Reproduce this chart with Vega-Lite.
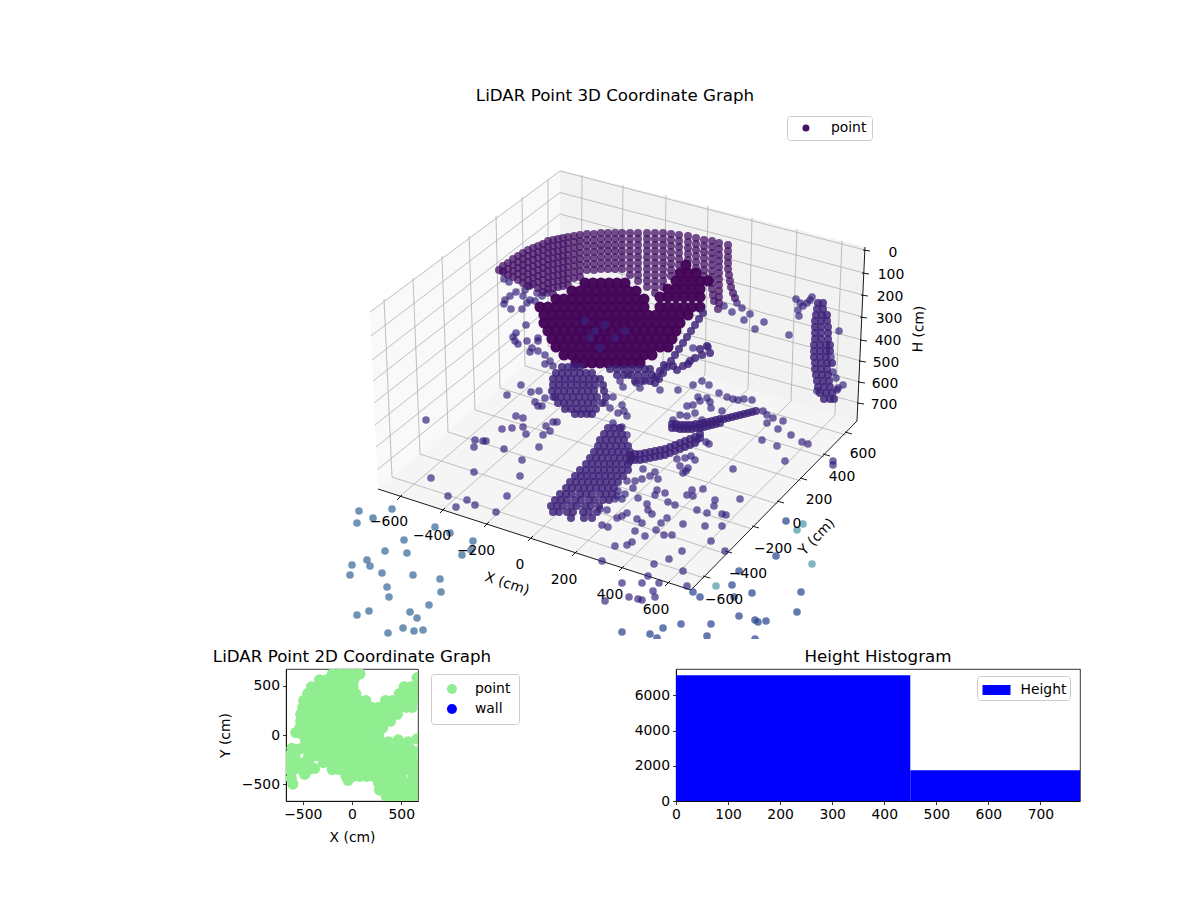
{
"$schema":"https://vega.github.io/schema/vega-lite/v6.json",
"padding":{"left":212,"top":88,"right":0,"bottom":0},
"background":"white",
"config":{"font":"DejaVu Sans","view":{"stroke":"#000000","strokeWidth":0.8},
 "axis":{"grid":false,"labelFontSize":13.9,"titleFontSize":13.9,"titleFontWeight":"normal","labelColor":"#000","titleColor":"#000","domainColor":"#000","tickColor":"#000","tickSize":3.5,"tickWidth":0.8,"domainWidth":0.8,"labelPadding":3,"labelFlush":false,"titlePadding":9},
 "title":{"fontSize":16.7,"fontWeight":"normal","offset":3,"color":"#000"},
 "legend":{"labelFontSize":13.9,"labelColor":"#000","fillColor":"white","strokeColor":"#cccccc","cornerRadius":3,"orient":"none","title":null}},
"spacing":9,
"resolve":{"scale":{"color":"independent"},"legend":{"color":"independent"}},
"datasets":{
"far":[{"x":359,"y":508},{"x":392,"y":506},{"x":373,"y":515},{"x":357,"y":520},{"x":435,"y":524},{"x":450,"y":530},{"x":404,"y":537},{"x":473,"y":538},{"x":385,"y":548},{"x":407,"y":550},{"x":471,"y":547},{"x":462,"y":552},{"x":367,"y":557},{"x":352,"y":562},{"x":370,"y":563},{"x":350,"y":572},{"x":382,"y":570},{"x":413,"y":572},{"x":440,"y":576},{"x":387,"y":584},{"x":441,"y":589},{"x":389,"y":594},{"x":429,"y":602},{"x":369,"y":608},{"x":357,"y":612},{"x":410,"y":609},{"x":417,"y":615},{"x":403,"y":625},{"x":414,"y":628},{"x":423,"y":627},{"x":388,"y":630}],
"midfar":[{"x":693,"y":589},{"x":700,"y":594},{"x":732,"y":582},{"x":739,"y":568},{"x":734,"y":594},{"x":752,"y":590},{"x":801,"y":589},{"x":797,"y":609},{"x":739,"y":613},{"x":755,"y":617},{"x":758,"y":619},{"x":766,"y":618},{"x":711,"y":621},{"x":681,"y":621},{"x":707,"y":633},{"x":663,"y":625},{"x":650,"y":631},{"x":657,"y":635},{"x":622,"y":629},{"x":776,"y":553},{"x":786,"y":518},{"x":755,"y":636}],
"teal":[{"x":797,"y":527},{"x":803,"y":521},{"x":812,"y":561},{"x":716,"y":583}],
"floor":[{"x":426,"y":417},{"x":431,"y":475},{"x":448,"y":493},{"x":456,"y":504},{"x":467,"y":497},{"x":475,"y":502},{"x":496,"y":509},{"x":507,"y":493},{"x":474,"y":469},{"x":520,"y":473},{"x":522,"y":457},{"x":504,"y":446},{"x":474,"y":444},{"x":475,"y":437},{"x":483,"y":438},{"x":486,"y":438},{"x":502,"y":426},{"x":512,"y":425},{"x":523,"y":424},{"x":526,"y":431},{"x":516,"y":413},{"x":523,"y":415},{"x":539,"y":444},{"x":543,"y":432},{"x":550,"y":428},{"x":546,"y":423},{"x":553,"y":419},{"x":557,"y":419},{"x":507,"y":392},{"x":521,"y":382},{"x":531,"y":389},{"x":539,"y":388},{"x":535,"y":399},{"x":538,"y":403},{"x":542,"y":403},{"x":545,"y":395},{"x":553,"y":394},
{"x":623,"y":384},{"x":622,"y":402},{"x":624,"y":408},{"x":627,"y":413},{"x":678,"y":387},{"x":719,"y":390},{"x":727,"y":394},{"x":733,"y":396},{"x":738,"y":397},{"x":744,"y":396},{"x":752,"y":397},{"x":698,"y":394},{"x":707,"y":395},{"x":687,"y":403},{"x":693,"y":402},{"x":710,"y":399},{"x":711,"y":405},{"x":700,"y":398},{"x":680,"y":412},{"x":687,"y":413},{"x":695,"y":410},{"x":722,"y":408},{"x":702,"y":417},{"x":673,"y":417},{"x":706,"y":439},{"x":709,"y":441},{"x":697,"y":437},{"x":762,"y":437},{"x":777,"y":443},{"x":791,"y":432},{"x":802,"y":439},{"x":808,"y":441},{"x":785,"y":458},{"x":833,"y":458},{"x":833,"y":462},{"x":733,"y":466},{"x":778,"y":426},{"x":783,"y":418},{"x":767,"y":420},{"x":773,"y":415},{"x":763,"y":408},{"x":767,"y":412},{"x":627,"y":432},{"x":613,"y":420},{"x":622,"y":424},
{"x":677,"y":456},{"x":685,"y":455},{"x":695,"y":457},{"x":691,"y":453},{"x":680,"y":463},{"x":683,"y":470},{"x":686,"y":468},{"x":688,"y":465},{"x":643,"y":466},{"x":655,"y":469},{"x":650,"y":473},{"x":658,"y":476},{"x":642,"y":476},{"x":635,"y":478},{"x":627,"y":478},{"x":633,"y":485},{"x":638,"y":495},{"x":625,"y":491},{"x":618,"y":488},{"x":655,"y":492},{"x":665,"y":490},{"x":657,"y":487},{"x":668,"y":499},{"x":675,"y":502},{"x":687,"y":492},{"x":692,"y":487},{"x":693,"y":493},{"x":703,"y":486},{"x":715,"y":497},{"x":714,"y":503},{"x":740,"y":496},{"x":697,"y":507},{"x":707,"y":510},{"x":722,"y":511},{"x":726,"y":512},{"x":647,"y":501},{"x":648,"y":507},{"x":652,"y":511},{"x":627,"y":510},{"x":622,"y":513},{"x":617,"y":515},{"x":637,"y":516},{"x":642,"y":520},{"x":661,"y":520},{"x":667,"y":515},{"x":683,"y":521},{"x":705,"y":523},{"x":722,"y":523},{"x":656,"y":527},{"x":635,"y":528},{"x":645,"y":533},{"x":664,"y":532},{"x":672,"y":532},{"x":632,"y":539},{"x":627,"y":542},{"x":615,"y":543},{"x":711,"y":538},{"x":725,"y":548},{"x":682,"y":548},{"x":669,"y":556},{"x":654,"y":561},{"x":683,"y":568},{"x":648,"y":573},{"x":642,"y":580},{"x":659,"y":580},{"x":687,"y":583},{"x":622,"y":580},{"x":653,"y":588},{"x":655,"y":594},{"x":638,"y":596},{"x":642,"y":597},{"x":629,"y":594},{"x":605,"y":598},{"x":602,"y":558},{"x":608,"y":524},{"x":602,"y":522},{"x":607,"y":507},{"x":600,"y":506},{"x":622,"y":496},{"x":615,"y":496},{"x":617,"y":493},
{"x":724,"y":303},{"x":732,"y":309},{"x":737,"y":300},{"x":742,"y":305},{"x":750,"y":311},{"x":744,"y":317},{"x":755,"y":326},{"x":764,"y":319},{"x":789,"y":332},{"x":839,"y":328},{"x":831,"y":354},{"x":833,"y":369},{"x":836,"y":375},{"x":838,"y":385},{"x":843,"y":382},{"x":837,"y":387},{"x":817,"y":388},{"x":796,"y":296},{"x":800,"y":300},{"x":798,"y":307},{"x":799,"y":313},{"x":803,"y":303},{"x":807,"y":300},{"x":812,"y":294},{"x":810,"y":297},
{"x":503,"y":268},{"x":504,"y":276},{"x":509,"y":279},{"x":516,"y":289},{"x":522,"y":306},{"x":505,"y":297},{"x":504,"y":301},{"x":511,"y":306},{"x":510,"y":293},{"x":526,"y":322},{"x":516,"y":330},{"x":513,"y":334},{"x":515,"y":338},{"x":518,"y":341},{"x":527,"y":338},{"x":538,"y":335},{"x":538,"y":338},{"x":532,"y":345},{"x":530,"y":349},{"x":538,"y":348},{"x":545,"y":352},{"x":550,"y":358},{"x":545,"y":361},{"x":553,"y":363},{"x":525,"y":287},{"x":530,"y":283},{"x":537,"y":290},{"x":523,"y":293},{"x":530,"y":297},{"x":527,"y":300},{"x":535,"y":298},{"x":542,"y":293},{"x":547,"y":290},
{"x":613,"y":394},{"x":610,"y":405},{"x":618,"y":410},{"x":605,"y":400},{"x":620,"y":378},{"x":628,"y":372},{"x":640,"y":385},{"x":636,"y":380},{"x":645,"y":378},{"x":693,"y":382},{"x":702,"y":378},{"x":709,"y":382},{"x":660,"y":387},{"x":693,"y":345},{"x":708,"y":344}],
"dome":[{"x":499,"y":267},{"x":503,"y":263},{"x":503,"y":269},{"x":508,"y":260},{"x":508,"y":266},{"x":508,"y":272},{"x":513,"y":256},{"x":513,"y":262},{"x":513,"y":268},{"x":513,"y":274},{"x":518,"y":253},{"x":518,"y":259},{"x":518,"y":265},{"x":518,"y":271},{"x":518,"y":277},{"x":523,"y":250},{"x":523,"y":256},{"x":523,"y":262},{"x":523,"y":268},{"x":523,"y":274},{"x":523,"y":280},{"x":528,"y":247},{"x":528,"y":253},{"x":528,"y":259},{"x":528,"y":265},{"x":528,"y":271},{"x":528,"y":277},{"x":528,"y":283},{"x":533,"y":245},{"x":533,"y":251},{"x":533,"y":257},{"x":533,"y":263},{"x":533,"y":269},{"x":533,"y":275},{"x":533,"y":281},{"x":538,"y":243},{"x":538,"y":249},{"x":538,"y":255},{"x":538,"y":261},{"x":538,"y":267},{"x":538,"y":273},{"x":538,"y":279},{"x":538,"y":285},{"x":543,"y":241},{"x":543,"y":247},{"x":543,"y":253},{"x":543,"y":259},{"x":543,"y":265},{"x":543,"y":271},{"x":543,"y":277},{"x":543,"y":283},{"x":543,"y":289},{"x":548,"y":238},{"x":548,"y":244},{"x":548,"y":250},{"x":548,"y":256},{"x":548,"y":262},{"x":548,"y":268},{"x":548,"y":274},{"x":548,"y":280},{"x":548,"y":286},{"x":553,"y":237},{"x":553,"y":243},{"x":553,"y":249},{"x":553,"y":255},{"x":553,"y":261},{"x":553,"y":267},{"x":553,"y":273},{"x":553,"y":279},{"x":553,"y":285},{"x":553,"y":291},{"x":558,"y":236},{"x":558,"y":242},{"x":558,"y":248},{"x":558,"y":254},{"x":558,"y":260},{"x":558,"y":266},{"x":558,"y":272},{"x":558,"y":278},{"x":558,"y":284},{"x":563,"y":235},{"x":563,"y":241},{"x":563,"y":247},{"x":563,"y":253},{"x":563,"y":259},{"x":563,"y":265},{"x":563,"y":271},{"x":563,"y":277},{"x":563,"y":283},{"x":568,"y":234},{"x":568,"y":240},{"x":568,"y":246},{"x":568,"y":252},{"x":568,"y":258},{"x":568,"y":264},{"x":568,"y":270},{"x":568,"y":276},{"x":568,"y":282},{"x":574,"y":233},{"x":574,"y":239},{"x":574,"y":245},{"x":574,"y":251},{"x":574,"y":257},{"x":574,"y":263},{"x":574,"y":269},{"x":574,"y":275},{"x":580,"y":232},{"x":580,"y":238},{"x":580,"y":244},{"x":580,"y":250},{"x":580,"y":256},{"x":580,"y":262},{"x":580,"y":268},{"x":580,"y":274},{"x":587,"y":231},{"x":587,"y":237},{"x":587,"y":243},{"x":587,"y":249},{"x":587,"y":255},{"x":587,"y":261},{"x":587,"y":267},{"x":594,"y":231},{"x":594,"y":237},{"x":594,"y":243},{"x":594,"y":249},{"x":594,"y":255},{"x":594,"y":261},{"x":594,"y":267},{"x":601,"y":230},{"x":601,"y":236},{"x":601,"y":242},{"x":601,"y":248},{"x":601,"y":254},{"x":601,"y":260},{"x":601,"y":266},{"x":608,"y":230},{"x":608,"y":236},{"x":608,"y":242},{"x":608,"y":248},{"x":608,"y":254},{"x":608,"y":260},{"x":608,"y":266},{"x":615,"y":230},{"x":615,"y":236},{"x":615,"y":242},{"x":615,"y":248},{"x":615,"y":254},{"x":615,"y":260},{"x":615,"y":266},{"x":622,"y":230},{"x":622,"y":236},{"x":622,"y":242},{"x":622,"y":248},{"x":622,"y":254},{"x":622,"y":260},{"x":622,"y":266},{"x":630,"y":230},{"x":630,"y":236},{"x":630,"y":242},{"x":630,"y":248},{"x":630,"y":254},{"x":630,"y":260},{"x":630,"y":266},{"x":630,"y":272},{"x":638,"y":230},{"x":638,"y":236},{"x":638,"y":242},{"x":638,"y":248},{"x":638,"y":254},{"x":638,"y":260},{"x":638,"y":266},{"x":638,"y":272},{"x":638,"y":278},{"x":647,"y":230},{"x":647,"y":236},{"x":647,"y":242},{"x":647,"y":248},{"x":647,"y":254},{"x":647,"y":260},{"x":647,"y":266},{"x":647,"y":272},{"x":647,"y":278},{"x":647,"y":284},{"x":655,"y":230},{"x":655,"y":236},{"x":655,"y":242},{"x":655,"y":248},{"x":655,"y":254},{"x":655,"y":260},{"x":655,"y":266},{"x":655,"y":272},{"x":655,"y":278},{"x":655,"y":284},{"x":655,"y":290},{"x":663,"y":230},{"x":663,"y":236},{"x":663,"y":242},{"x":663,"y":248},{"x":663,"y":254},{"x":663,"y":260},{"x":663,"y":266},{"x":663,"y":272},{"x":663,"y":278},{"x":663,"y":284},{"x":671,"y":231},{"x":671,"y":237},{"x":671,"y":243},{"x":671,"y":249},{"x":671,"y":255},{"x":671,"y":261},{"x":671,"y":267},{"x":671,"y":273},{"x":679,"y":232},{"x":679,"y":238},{"x":679,"y":244},{"x":679,"y":250},{"x":679,"y":256},{"x":679,"y":262},{"x":688,"y":233},{"x":688,"y":239},{"x":688,"y":245},{"x":688,"y":251},{"x":688,"y":257},{"x":696,"y":235},{"x":696,"y":241},{"x":696,"y":247},{"x":696,"y":253},{"x":696,"y":259},{"x":696,"y":265},{"x":704,"y":237},{"x":704,"y":243},{"x":704,"y":249},{"x":704,"y":255},{"x":704,"y":261},{"x":704,"y":267},{"x":704,"y":273},{"x":712,"y":238},{"x":712,"y":244},{"x":712,"y":250},{"x":712,"y":256},{"x":712,"y":262},{"x":712,"y":268},{"x":712,"y":274},{"x":712,"y":280},{"x":712,"y":286},{"x":713,"y":292},{"x":714,"y":298},{"x":719,"y":240},{"x":719,"y":246},{"x":719,"y":252},{"x":719,"y":258},{"x":719,"y":264},{"x":719,"y":270},{"x":719,"y":276},{"x":719,"y":282},{"x":719,"y":288},{"x":719,"y":294},{"x":719,"y":300},{"x":718,"y":306},{"x":728,"y":242},{"x":728,"y":248},{"x":728,"y":254},{"x":728,"y":260},{"x":728,"y":266},{"x":729,"y":272},{"x":730,"y":278},{"x":731,"y":284},{"x":733,"y":290},{"x":735,"y":295}],
"fan":[{"x":608,"y":425},{"x":614,"y":425},{"x":620,"y":425},{"x":604,"y":431},{"x":610,"y":431},{"x":616,"y":431},{"x":622,"y":431},{"x":600,"y":437},{"x":606,"y":437},{"x":612,"y":437},{"x":618,"y":437},{"x":624,"y":437},{"x":598,"y":443},{"x":604,"y":443},{"x":610,"y":443},{"x":616,"y":443},{"x":622,"y":443},{"x":628,"y":443},{"x":594,"y":449},{"x":600,"y":449},{"x":606,"y":449},{"x":612,"y":449},{"x":618,"y":449},{"x":624,"y":449},{"x":630,"y":449},{"x":590,"y":455},{"x":596,"y":455},{"x":602,"y":455},{"x":608,"y":455},{"x":614,"y":455},{"x":620,"y":455},{"x":626,"y":455},{"x":632,"y":455},{"x":586,"y":461},{"x":592,"y":461},{"x":598,"y":461},{"x":604,"y":461},{"x":610,"y":461},{"x":616,"y":461},{"x":622,"y":461},{"x":628,"y":461},{"x":580,"y":467},{"x":586,"y":467},{"x":592,"y":467},{"x":598,"y":467},{"x":604,"y":467},{"x":610,"y":467},{"x":616,"y":467},{"x":622,"y":467},{"x":628,"y":467},{"x":575,"y":473},{"x":581,"y":473},{"x":587,"y":473},{"x":593,"y":473},{"x":599,"y":473},{"x":605,"y":473},{"x":611,"y":473},{"x":617,"y":473},{"x":623,"y":473},{"x":570,"y":479},{"x":576,"y":479},{"x":582,"y":479},{"x":588,"y":479},{"x":594,"y":479},{"x":600,"y":479},{"x":606,"y":479},{"x":612,"y":479},{"x":618,"y":479},{"x":566,"y":485},{"x":572,"y":485},{"x":578,"y":485},{"x":584,"y":485},{"x":590,"y":485},{"x":596,"y":485},{"x":602,"y":485},{"x":608,"y":485},{"x":614,"y":485},{"x":560,"y":491},{"x":566,"y":491},{"x":572,"y":491},{"x":580,"y":491},{"x":586,"y":491},{"x":592,"y":491},{"x":600,"y":491},{"x":606,"y":491},{"x":612,"y":491},{"x":555,"y":497},{"x":561,"y":497},{"x":567,"y":497},{"x":575,"y":497},{"x":581,"y":497},{"x":589,"y":497},{"x":595,"y":497},{"x":603,"y":497},{"x":609,"y":497},{"x":551,"y":503},{"x":557,"y":503},{"x":563,"y":503},{"x":571,"y":503},{"x":577,"y":503},{"x":585,"y":503},{"x":591,"y":503},{"x":599,"y":503},{"x":553,"y":509},{"x":559,"y":509},{"x":567,"y":509},{"x":573,"y":509},{"x":583,"y":509},{"x":589,"y":509},{"x":597,"y":509},{"x":571,"y":515},{"x":584,"y":515},{"x":592,"y":515},
{"x":630,"y":452},{"x":630,"y":458},{"x":635,"y":451},{"x":635,"y":457},{"x":640,"y":451},{"x":640,"y":457},{"x":645,"y":450},{"x":645,"y":456},{"x":650,"y":449},{"x":650,"y":455},{"x":655,"y":448},{"x":655,"y":454},{"x":660,"y":447},{"x":660,"y":453},{"x":665,"y":446},{"x":665,"y":452},{"x":670,"y":444},{"x":670,"y":450},{"x":675,"y":442},{"x":675,"y":448},{"x":680,"y":440},{"x":680,"y":446},{"x":685,"y":438},{"x":685,"y":444},{"x":690,"y":436},{"x":690,"y":442},{"x":695,"y":434},{"x":695,"y":440},{"x":700,"y":431},{"x":700,"y":435},
{"x":672,"y":421},{"x":672,"y":425},{"x":676,"y":421},{"x":676,"y":425},{"x":680,"y":422},{"x":680,"y":426},{"x":684,"y":422},{"x":684,"y":426},{"x":688,"y":422},{"x":688,"y":426},{"x":692,"y":422},{"x":692,"y":426},{"x":696,"y":421},{"x":696,"y":425},{"x":700,"y":421},{"x":700,"y":425},{"x":704,"y":420},{"x":704,"y":424},{"x":708,"y":419},{"x":708,"y":423},{"x":712,"y":418},{"x":712,"y":422},{"x":716,"y":417},{"x":716,"y":421},{"x":720,"y":416},{"x":720,"y":420},{"x":724,"y":416},{"x":728,"y":415},{"x":732,"y":414},{"x":736,"y":413},{"x":740,"y":412},{"x":744,"y":411},{"x":748,"y":410},{"x":752,"y":409},{"x":756,"y":408},
{"x":562,"y":364},{"x":568,"y":364},{"x":574,"y":364},{"x":580,"y":364},{"x":556,"y":370},{"x":562,"y":370},{"x":568,"y":370},{"x":574,"y":370},{"x":580,"y":370},{"x":586,"y":370},{"x":592,"y":370},{"x":553,"y":376},{"x":559,"y":376},{"x":565,"y":376},{"x":571,"y":376},{"x":577,"y":376},{"x":583,"y":376},{"x":589,"y":376},{"x":595,"y":376},{"x":600,"y":376},{"x":553,"y":382},{"x":559,"y":382},{"x":565,"y":382},{"x":571,"y":382},{"x":577,"y":382},{"x":583,"y":382},{"x":589,"y":382},{"x":595,"y":382},{"x":603,"y":382},{"x":552,"y":388},{"x":558,"y":388},{"x":564,"y":388},{"x":570,"y":388},{"x":576,"y":388},{"x":582,"y":388},{"x":588,"y":388},{"x":594,"y":388},{"x":604,"y":388},{"x":555,"y":394},{"x":561,"y":394},{"x":567,"y":394},{"x":573,"y":394},{"x":579,"y":394},{"x":585,"y":394},{"x":591,"y":394},{"x":597,"y":394},{"x":606,"y":394},{"x":558,"y":400},{"x":564,"y":400},{"x":570,"y":400},{"x":576,"y":400},{"x":582,"y":400},{"x":588,"y":400},{"x":594,"y":400},{"x":602,"y":400},{"x":565,"y":406},{"x":571,"y":406},{"x":577,"y":406},{"x":583,"y":406},{"x":589,"y":406},{"x":596,"y":406},{"x":575,"y":411},{"x":581,"y":411},{"x":587,"y":411},{"x":592,"y":411},
{"x":703,"y":310},{"x":699,"y":316},{"x":695,"y":322},{"x":691,"y":328},{"x":687,"y":334},{"x":683,"y":340},{"x":679,"y":346},{"x":675,"y":352},{"x":671,"y":358},{"x":667,"y":364},{"x":663,"y":370},{"x":659,"y":376},{"x":655,"y":380},{"x":664,"y":362},{"x":660,"y":368},{"x":656,"y":374},{"x":707,"y":343},{"x":710,"y":350},{"x":702,"y":352},{"x":695,"y":355},{"x":688,"y":361},{"x":683,"y":363},{"x":677,"y":367},{"x":673,"y":363},{"x":690,"y":358},{"x":700,"y":346},
{"x":610,"y":366},{"x":617,"y":366},{"x":624,"y":366},{"x":631,"y":366},{"x":638,"y":366},{"x":645,"y":366},{"x":650,"y":366},{"x":617,"y":372},{"x":624,"y":372},{"x":631,"y":372},{"x":638,"y":372},{"x":645,"y":372},{"x":652,"y":372},{"x":635,"y":378},{"x":642,"y":378},{"x":650,"y":378},{"x":585,"y":318},{"x":595,"y":328},{"x":605,"y":322},{"x":615,"y":335},{"x":600,"y":345},{"x":625,"y":328},{"x":590,"y":335},
{"x":818,"y":300},{"x":823,"y":300},{"x":817,"y":306},{"x":823,"y":306},{"x":816,"y":312},{"x":822,"y":312},{"x":827,"y":312},{"x":815,"y":318},{"x":821,"y":318},{"x":827,"y":318},{"x":815,"y":324},{"x":821,"y":324},{"x":828,"y":324},{"x":815,"y":330},{"x":821,"y":330},{"x":828,"y":330},{"x":815,"y":336},{"x":821,"y":336},{"x":828,"y":336},{"x":814,"y":342},{"x":820,"y":342},{"x":826,"y":342},{"x":830,"y":342},{"x":814,"y":348},{"x":820,"y":348},{"x":826,"y":348},{"x":830,"y":348},{"x":814,"y":354},{"x":820,"y":354},{"x":826,"y":354},{"x":815,"y":360},{"x":821,"y":360},{"x":827,"y":360},{"x":832,"y":360},{"x":815,"y":366},{"x":821,"y":366},{"x":827,"y":366},{"x":816,"y":372},{"x":822,"y":372},{"x":828,"y":372},{"x":817,"y":378},{"x":823,"y":378},{"x":829,"y":378},{"x":818,"y":384},{"x":824,"y":384},{"x":830,"y":384},{"x":820,"y":390},{"x":826,"y":390},{"x":832,"y":390},{"x":824,"y":396},{"x":830,"y":396},{"x":834,"y":396}],
"blob":[{"x":585,"y":280},{"x":593,"y":280},{"x":601,"y":280},{"x":609,"y":280},{"x":617,"y":280},{"x":625,"y":280},{"x":572,"y":288},{"x":580,"y":288},{"x":588,"y":288},{"x":596,"y":288},{"x":604,"y":288},{"x":612,"y":288},{"x":620,"y":288},{"x":628,"y":288},{"x":636,"y":288},{"x":556,"y":296},{"x":564,"y":296},{"x":572,"y":296},{"x":580,"y":296},{"x":588,"y":296},{"x":596,"y":296},{"x":604,"y":296},{"x":612,"y":296},{"x":620,"y":296},{"x":628,"y":296},{"x":636,"y":296},{"x":644,"y":296},{"x":540,"y":304},{"x":548,"y":304},{"x":556,"y":304},{"x":564,"y":304},{"x":572,"y":304},{"x":580,"y":304},{"x":588,"y":304},{"x":596,"y":304},{"x":604,"y":304},{"x":612,"y":304},{"x":620,"y":304},{"x":628,"y":304},{"x":636,"y":304},{"x":644,"y":304},{"x":660,"y":304},{"x":668,"y":304},{"x":676,"y":304},{"x":684,"y":304},{"x":692,"y":304},{"x":700,"y":304},{"x":544,"y":312},{"x":552,"y":312},{"x":560,"y":312},{"x":568,"y":312},{"x":576,"y":312},{"x":584,"y":312},{"x":592,"y":312},{"x":600,"y":312},{"x":608,"y":312},{"x":616,"y":312},{"x":624,"y":312},{"x":632,"y":312},{"x":640,"y":312},{"x":648,"y":312},{"x":656,"y":312},{"x":664,"y":312},{"x":672,"y":312},{"x":680,"y":312},{"x":688,"y":312},{"x":544,"y":320},{"x":552,"y":320},{"x":560,"y":320},{"x":568,"y":320},{"x":576,"y":320},{"x":584,"y":320},{"x":592,"y":320},{"x":600,"y":320},{"x":608,"y":320},{"x":616,"y":320},{"x":624,"y":320},{"x":632,"y":320},{"x":640,"y":320},{"x":648,"y":320},{"x":656,"y":320},{"x":664,"y":320},{"x":672,"y":320},{"x":680,"y":320},{"x":548,"y":328},{"x":556,"y":328},{"x":564,"y":328},{"x":572,"y":328},{"x":580,"y":328},{"x":588,"y":328},{"x":596,"y":328},{"x":604,"y":328},{"x":612,"y":328},{"x":620,"y":328},{"x":628,"y":328},{"x":636,"y":328},{"x":644,"y":328},{"x":652,"y":328},{"x":660,"y":328},{"x":668,"y":328},{"x":676,"y":328},{"x":552,"y":336},{"x":560,"y":336},{"x":568,"y":336},{"x":576,"y":336},{"x":584,"y":336},{"x":592,"y":336},{"x":600,"y":336},{"x":608,"y":336},{"x":616,"y":336},{"x":624,"y":336},{"x":632,"y":336},{"x":640,"y":336},{"x":648,"y":336},{"x":656,"y":336},{"x":664,"y":336},{"x":672,"y":336},{"x":556,"y":344},{"x":564,"y":344},{"x":572,"y":344},{"x":580,"y":344},{"x":588,"y":344},{"x":596,"y":344},{"x":604,"y":344},{"x":612,"y":344},{"x":620,"y":344},{"x":628,"y":344},{"x":636,"y":344},{"x":644,"y":344},{"x":652,"y":344},{"x":660,"y":344},{"x":668,"y":344},{"x":564,"y":352},{"x":572,"y":352},{"x":580,"y":352},{"x":588,"y":352},{"x":596,"y":352},{"x":604,"y":352},{"x":612,"y":352},{"x":620,"y":352},{"x":628,"y":352},{"x":636,"y":352},{"x":644,"y":352},{"x":652,"y":352},{"x":576,"y":360},{"x":584,"y":360},{"x":592,"y":360},{"x":600,"y":360},{"x":608,"y":360},{"x":616,"y":360},{"x":624,"y":360},{"x":632,"y":360},{"x":640,"y":360},{"x":686,"y":262},{"x":680,"y":270},{"x":688,"y":270},{"x":696,"y":270},{"x":676,"y":278},{"x":684,"y":278},{"x":692,"y":278},{"x":700,"y":278},{"x":708,"y":278},{"x":668,"y":286},{"x":676,"y":286},{"x":684,"y":286},{"x":692,"y":286},{"x":700,"y":286},{"x":660,"y":294},{"x":668,"y":294},{"x":676,"y":294},{"x":684,"y":294},{"x":692,"y":294},{"x":700,"y":294}],
"flat":[{"x":-200,"y":620},{"x":-130,"y":620},{"x":-60,"y":620},{"x":10,"y":620},{"x":80,"y":620},{"x":-330,"y":560},{"x":-260,"y":560},{"x":-190,"y":560},{"x":-120,"y":560},{"x":-50,"y":560},{"x":20,"y":560},{"x":660,"y":580},{"x":-410,"y":490},{"x":-340,"y":490},{"x":-270,"y":490},{"x":-200,"y":490},{"x":-130,"y":490},{"x":-60,"y":490},{"x":10,"y":490},{"x":530,"y":490},{"x":600,"y":490},{"x":660,"y":490},{"x":-450,"y":420},{"x":-380,"y":420},{"x":-310,"y":420},{"x":-240,"y":420},{"x":-170,"y":420},{"x":-100,"y":420},{"x":-30,"y":420},{"x":40,"y":420},{"x":480,"y":420},{"x":550,"y":420},{"x":620,"y":420},{"x":-490,"y":350},{"x":-420,"y":350},{"x":-350,"y":350},{"x":-280,"y":350},{"x":-210,"y":350},{"x":-140,"y":350},{"x":-70,"y":350},{"x":0,"y":350},{"x":70,"y":350},{"x":140,"y":350},{"x":340,"y":350},{"x":410,"y":350},{"x":480,"y":350},{"x":550,"y":350},{"x":620,"y":350},{"x":-500,"y":280},{"x":-430,"y":280},{"x":-360,"y":280},{"x":-290,"y":280},{"x":-220,"y":280},{"x":-150,"y":280},{"x":-80,"y":280},{"x":-10,"y":280},{"x":60,"y":280},{"x":130,"y":280},{"x":200,"y":280},{"x":270,"y":280},{"x":340,"y":280},{"x":410,"y":280},{"x":480,"y":280},{"x":550,"y":280},{"x":610,"y":280},{"x":-520,"y":210},{"x":-450,"y":210},{"x":-380,"y":210},{"x":-310,"y":210},{"x":-240,"y":210},{"x":-170,"y":210},{"x":-100,"y":210},{"x":-30,"y":210},{"x":40,"y":210},{"x":110,"y":210},{"x":180,"y":210},{"x":250,"y":210},{"x":320,"y":210},{"x":390,"y":210},{"x":460,"y":210},{"x":-520,"y":140},{"x":-450,"y":140},{"x":-380,"y":140},{"x":-310,"y":140},{"x":-240,"y":140},{"x":-170,"y":140},{"x":-100,"y":140},{"x":-30,"y":140},{"x":40,"y":140},{"x":110,"y":140},{"x":180,"y":140},{"x":250,"y":140},{"x":320,"y":140},{"x":390,"y":140},{"x":-530,"y":70},{"x":-460,"y":70},{"x":-390,"y":70},{"x":-320,"y":70},{"x":-250,"y":70},{"x":-180,"y":70},{"x":-110,"y":70},{"x":-40,"y":70},{"x":30,"y":70},{"x":100,"y":70},{"x":170,"y":70},{"x":240,"y":70},{"x":310,"y":70},{"x":-570,"y":25},{"x":-500,"y":0},{"x":-430,"y":0},{"x":-360,"y":0},{"x":-290,"y":0},{"x":-220,"y":0},{"x":-150,"y":0},{"x":-80,"y":0},{"x":-10,"y":0},{"x":60,"y":0},{"x":130,"y":0},{"x":200,"y":0},{"x":270,"y":0},{"x":-470,"y":-70},{"x":-400,"y":-70},{"x":-330,"y":-70},{"x":-260,"y":-70},{"x":-190,"y":-70},{"x":-120,"y":-70},{"x":-50,"y":-70},{"x":20,"y":-70},{"x":90,"y":-70},{"x":160,"y":-70},{"x":230,"y":-70},{"x":300,"y":-70},{"x":370,"y":-70},{"x":470,"y":-50},{"x":570,"y":-70},{"x":660,"y":-40},{"x":-610,"y":-135},{"x":-530,"y":-140},{"x":-460,"y":-140},{"x":-390,"y":-140},{"x":-320,"y":-140},{"x":-250,"y":-140},{"x":-180,"y":-140},{"x":-110,"y":-140},{"x":-40,"y":-140},{"x":30,"y":-140},{"x":100,"y":-140},{"x":170,"y":-140},{"x":240,"y":-140},{"x":310,"y":-140},{"x":380,"y":-140},{"x":450,"y":-140},{"x":520,"y":-140},{"x":590,"y":-140},{"x":650,"y":-170},{"x":-640,"y":-210},{"x":-580,"y":-210},{"x":-440,"y":-210},{"x":-370,"y":-210},{"x":-300,"y":-210},{"x":-230,"y":-210},{"x":-160,"y":-210},{"x":-90,"y":-210},{"x":-20,"y":-210},{"x":50,"y":-210},{"x":120,"y":-210},{"x":190,"y":-210},{"x":260,"y":-210},{"x":330,"y":-210},{"x":400,"y":-210},{"x":470,"y":-210},{"x":540,"y":-210},{"x":610,"y":-210},{"x":-640,"y":-280},{"x":-590,"y":-280},{"x":-500,"y":-280},{"x":-440,"y":-280},{"x":-290,"y":-280},{"x":-220,"y":-280},{"x":-150,"y":-280},{"x":-80,"y":-280},{"x":-10,"y":-280},{"x":60,"y":-280},{"x":130,"y":-280},{"x":200,"y":-280},{"x":270,"y":-280},{"x":340,"y":-280},{"x":410,"y":-280},{"x":480,"y":-280},{"x":550,"y":-280},{"x":620,"y":-280},{"x":-640,"y":-350},{"x":-590,"y":-350},{"x":-510,"y":-350},{"x":-440,"y":-350},{"x":-380,"y":-340},{"x":-200,"y":-350},{"x":-130,"y":-350},{"x":-60,"y":-350},{"x":10,"y":-350},{"x":80,"y":-350},{"x":150,"y":-350},{"x":220,"y":-350},{"x":290,"y":-350},{"x":360,"y":-350},{"x":430,"y":-350},{"x":500,"y":-350},{"x":570,"y":-350},{"x":640,"y":-350},{"x":-617,"y":-440},{"x":-480,"y":-400},{"x":-60,"y":-420},{"x":10,"y":-420},{"x":80,"y":-420},{"x":150,"y":-420},{"x":220,"y":-420},{"x":290,"y":-420},{"x":360,"y":-420},{"x":430,"y":-420},{"x":500,"y":-420},{"x":620,"y":-420},{"x":-600,"y":-498},{"x":-40,"y":-460},{"x":270,"y":-490},{"x":340,"y":-490},{"x":410,"y":-490},{"x":480,"y":-490},{"x":560,"y":-490},{"x":620,"y":-490},{"x":280,"y":-560},{"x":350,"y":-560},{"x":420,"y":-560},{"x":490,"y":-560},{"x":590,"y":-560},{"x":650,"y":-560},{"x":350,"y":-630},{"x":420,"y":-630},{"x":490,"y":-630},{"x":560,"y":-630},{"x":630,"y":-630},{"x":670,"y":-630}]
},
"vconcat":[
 {"width":867,"height":528,
  "title":{"text":"LiDAR Point 3D Coordinate Graph","dx":-104.5,"offset":6},
  "view":{"stroke":null},
  "resolve":{"legend":{"color":"independent"}},
  "layer":[
   {"data":{"values":[{"x":370,"y":309,"y2":309},{"x":378,"y":302.7,"y2":486},{"x":560,"y":167,"y2":333}]},"mark":{"type":"area","color":"#f9f9f9"},
    "encoding":{"x":{"field":"x","type":"quantitative","scale":{"domain":[286,1153],"nice":false,"zero":false},"axis":null},"y":{"field":"y","type":"quantitative","scale":{"domain":[636,108],"nice":false,"zero":false},"axis":null},"y2":{"field":"y2"}}},
   {"data":{"values":[{"x":560,"y":167,"y2":333},{"x":857,"y":242,"y2":418},{"x":865,"y":244,"y2":244}]},"mark":{"type":"area","color":"#f2f2f2"},
    "encoding":{"x":{"field":"x","type":"quantitative"},"y":{"field":"y","type":"quantitative"},"y2":{"field":"y2"}}},
   {"data":{"values":[{"x":378,"y":486,"y2":486},{"x":560,"y":333,"y2":545},{"x":691,"y":370.5,"y2":587},{"x":857,"y":418,"y2":418}]},"mark":{"type":"area","color":"#f5f5f5"},
    "encoding":{"x":{"field":"x","type":"quantitative"},"y":{"field":"y","type":"quantitative"},"y2":{"field":"y2"}}},
   {"data":{"values":[
     {"x":384,"y":296,"x2":392,"y2":474},{"x":413,"y":275,"x2":420,"y2":451},{"x":442,"y":253,"x2":448,"y2":429},{"x":469,"y":233,"x2":475,"y2":407},{"x":496,"y":213,"x2":500,"y2":385},{"x":522,"y":194,"x2":525,"y2":363},{"x":548,"y":176,"x2":548,"y2":343},
     {"x":582,"y":172,"x2":581,"y2":339},{"x":623,"y":182,"x2":621,"y2":351},{"x":666,"y":192,"x2":663,"y2":362},{"x":708,"y":203,"x2":705,"y2":372},{"x":752,"y":215,"x2":748,"y2":386},{"x":797,"y":226,"x2":791,"y2":398},{"x":842,"y":238,"x2":835,"y2":412},
     {"x":370,"y":309,"x2":560,"y2":168},{"x":371,"y":333,"x2":560,"y2":189.5},{"x":372,"y":357,"x2":560,"y2":211},{"x":373,"y":378,"x2":560,"y2":232.5},{"x":374,"y":400,"x2":560,"y2":254},{"x":375,"y":422,"x2":560,"y2":275.5},{"x":376,"y":444,"x2":560,"y2":297},{"x":377,"y":467,"x2":560,"y2":318.5},
     {"x":560,"y":168,"x2":865,"y2":247},{"x":560,"y":189.5,"x2":864,"y2":270},{"x":560,"y":211,"x2":863,"y2":292},{"x":560,"y":232.5,"x2":863,"y2":314},{"x":560,"y":254,"x2":862,"y2":337},{"x":560,"y":275.5,"x2":861,"y2":358},{"x":560,"y":297,"x2":860,"y2":379},{"x":560,"y":318.5,"x2":859,"y2":400},
     {"x":399,"y":494,"x2":581,"y2":339},{"x":442,"y":507,"x2":621,"y2":351},{"x":486,"y":521,"x2":663,"y2":362},{"x":530,"y":536,"x2":705,"y2":372},{"x":574,"y":551,"x2":748,"y2":386},{"x":621,"y":566,"x2":791,"y2":398},{"x":667,"y":581,"x2":835,"y2":412},
     {"x":392,"y":474,"x2":704,"y2":575},{"x":420,"y":451,"x2":726,"y2":551},{"x":448,"y":429,"x2":752,"y2":526},{"x":475,"y":407,"x2":778,"y2":501},{"x":500,"y":385,"x2":801,"y2":478},{"x":525,"y":363,"x2":824,"y2":454},{"x":548,"y":343,"x2":846,"y2":432}
    ]},"mark":{"type":"rule","color":"#b0b0b0","strokeWidth":0.8},
    "encoding":{"x":{"field":"x","type":"quantitative"},"y":{"field":"y","type":"quantitative"},"x2":{"field":"x2"},"y2":{"field":"y2"}}},
   {"data":{"values":[
     {"x":378,"y":486,"x2":691,"y2":587},{"x":691,"y":587,"x2":857,"y2":418},{"x":857,"y":418,"x2":865,"y2":244},
     {"x":397,"y":497,"x2":402,"y2":492},{"x":440,"y":510,"x2":445,"y2":505},{"x":484,"y":524,"x2":489,"y2":519},{"x":528,"y":538,"x2":533,"y2":533},{"x":572,"y":553,"x2":577,"y2":548},{"x":619,"y":568,"x2":624,"y2":563},{"x":665,"y":583,"x2":670,"y2":578},
     {"x":703,"y":573,"x2":710,"y2":575},{"x":725,"y":548,"x2":732,"y2":550},{"x":752,"y":523,"x2":759,"y2":525},{"x":777,"y":498,"x2":784,"y2":500},{"x":800,"y":475,"x2":807,"y2":477},{"x":823,"y":451,"x2":830,"y2":453},{"x":845,"y":429,"x2":852,"y2":431},
     {"x":863,"y":247,"x2":870,"y2":248},{"x":862,"y":270,"x2":869,"y2":271},{"x":861,"y":292,"x2":868,"y2":293},{"x":860,"y":314,"x2":867,"y2":315},{"x":860,"y":337,"x2":867,"y2":338},{"x":859,"y":358,"x2":866,"y2":359},{"x":858,"y":379,"x2":865,"y2":380},{"x":857,"y":400,"x2":864,"y2":401}
    ]},"mark":{"type":"rule","color":"#000","strokeWidth":0.9},
    "encoding":{"x":{"field":"x","type":"quantitative"},"y":{"field":"y","type":"quantitative"},"x2":{"field":"x2"},"y2":{"field":"y2"}}},
   {"data":{"name":"far"},"mark":{"type":"point","filled":true,"size":58,"opacity":0.7,"color":"#326596","clip":true},
    "encoding":{"x":{"field":"x","type":"quantitative"},"y":{"field":"y","type":"quantitative"}}},
   {"data":{"name":"midfar"},"mark":{"type":"point","filled":true,"size":58,"opacity":0.7,"color":"#22408a","clip":true},
    "encoding":{"x":{"field":"x","type":"quantitative"},"y":{"field":"y","type":"quantitative"}}},
   {"data":{"name":"teal"},"mark":{"type":"point","filled":true,"size":58,"opacity":0.7,"color":"#4a96a4","clip":true},
    "encoding":{"x":{"field":"x","type":"quantitative"},"y":{"field":"y","type":"quantitative"}}},
   {"data":{"name":"floor"},"mark":{"type":"point","filled":true,"size":58,"opacity":0.66,"color":"#2f1a78","clip":true},
    "encoding":{"x":{"field":"x","type":"quantitative"},"y":{"field":"y","type":"quantitative"}}},
   {"data":{"name":"dome"},"mark":{"type":"point","filled":true,"size":64,"opacity":0.75,"clip":true},
    "encoding":{"x":{"field":"x","type":"quantitative"},"y":{"field":"y","type":"quantitative"},
     "color":{"datum":"point","scale":{"domain":["point"],"range":["#441165"]},"legend":{"legendX":501,"legendY":5,"symbolType":"circle","symbolSize":49,"symbolOpacity":1,"padding":5,"symbolOffset":7,"labelOffset":18}}}},
   {"data":{"name":"blob"},"mark":{"type":"point","filled":true,"size":125,"opacity":0.97,"color":"#430458","clip":true},
    "encoding":{"x":{"field":"x","type":"quantitative"},"y":{"field":"y","type":"quantitative"}}},
   {"data":{"name":"fan"},"mark":{"type":"point","filled":true,"size":64,"opacity":0.82,"color":"#3b2078","clip":true},
    "encoding":{"x":{"field":"x","type":"quantitative"},"y":{"field":"y","type":"quantitative"}}},
   {"data":{"values":[
     {"x":389,"y":519,"t":"−600"},{"x":432,"y":533,"t":"−400"},{"x":476,"y":548,"t":"−200"},{"x":520,"y":562,"t":"0"},{"x":564,"y":577,"t":"200"},{"x":610,"y":592,"t":"400"},{"x":656,"y":607,"t":"600"},
     {"x":724,"y":597,"t":"−600"},{"x":748,"y":571,"t":"−400"},{"x":773,"y":546,"t":"−200"},{"x":797,"y":521,"t":"0"},{"x":819,"y":497,"t":"200"},{"x":842,"y":474,"t":"400"},{"x":863,"y":451,"t":"600"},
     {"x":893,"y":250,"t":"0"},{"x":891,"y":272,"t":"100"},{"x":890,"y":294,"t":"200"},{"x":889,"y":316,"t":"300"},{"x":888,"y":338,"t":"400"},{"x":886,"y":360,"t":"500"},{"x":885,"y":381,"t":"600"},{"x":884,"y":402,"t":"700"}
    ]},"mark":{"type":"text","fontSize":13.9,"color":"#000"},
    "encoding":{"x":{"field":"x","type":"quantitative"},"y":{"field":"y","type":"quantitative"},"text":{"field":"t"}}},
   {"data":{"values":[{"x":507,"y":581,"t":"X (cm)","a":18},{"x":817,"y":534,"t":"Y (cm)","a":-46},{"x":919,"y":326,"t":"H (cm)","a":-88}]},"mark":{"type":"text","fontSize":13.9,"color":"#000"},
    "encoding":{"x":{"field":"x","type":"quantitative"},"y":{"field":"y","type":"quantitative"},"text":{"field":"t"},"angle":{"field":"a","type":"quantitative","scale":null}}}
  ]
 },
 {"spacing":113,"resolve":{"scale":{"color":"independent"},"legend":{"color":"independent"}},"hconcat":[
  {"width":132,"height":132,"title":"LiDAR Point 2D Coordinate Graph",
   "data":{"name":"flat"},
   "mark":{"type":"point","filled":true,"size":125,"opacity":1,"clip":true},
   "encoding":{"x":{"field":"x","type":"quantitative","title":"X (cm)","scale":{"domain":[-670,670],"nice":false},"axis":{"values":[-500,0,500]}},
    "y":{"field":"y","type":"quantitative","title":"Y (cm)","scale":{"domain":[-670,670],"nice":false},"axis":{"values":[-500,0,500]}},
    "color":{"datum":"point","scale":{"domain":["point","wall"],"range":["#90EE90","#0000FF"]},"legend":{"legendX":145,"legendY":5,"symbolType":"circle","symbolSize":100,"symbolOpacity":1,"padding":8,"symbolOffset":6,"labelOffset":16,"rowPadding":5}}}},
  {"width":404,"height":132,"title":"Height Histogram",
   "data":{"values":[{"from":0,"to":450,"count":7150},{"from":450,"to":776,"count":1750}]},
   "mark":{"type":"rect"},
   "encoding":{"x":{"field":"from","type":"quantitative","title":null,"scale":{"domain":[0,776],"nice":false},"axis":{"values":[0,100,200,300,400,500,600,700]}},"x2":{"field":"to"},
    "y":{"field":"count","type":"quantitative","title":null,"scale":{"domain":[0,7500],"nice":false},"axis":{"values":[0,2000,4000,6000],"format":"d"}},"y2":{"datum":0},
    "color":{"datum":"Height","scale":{"domain":["Height"],"range":["#0000FF"]},"legend":{"legendX":301,"legendY":7,"symbolType":"M-1.4,-0.5H1.4V0.5H-1.4Z","symbolSize":400,"symbolOpacity":1,"padding":3,"symbolOffset":5.5,"labelOffset":13}}}}
 ]}
]}
